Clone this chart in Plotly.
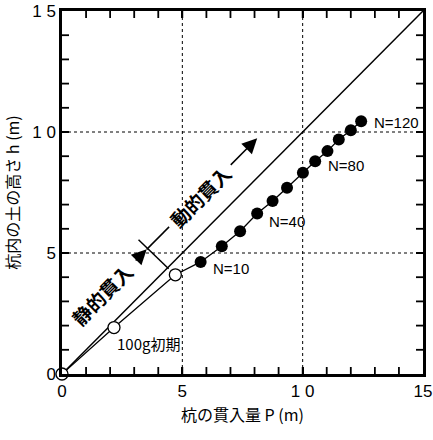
import plotly.graph_objects as go

# Data
open_P = [0.0, 2.16, 4.71]
open_h = [0.0, 1.92, 4.10]
N_vals = [10, 20, 30, 40, 50, 60, 70, 80, 90, 100, 110, 120]
dyn_P = [5.76, 6.64, 7.40, 8.11, 8.75, 9.35, 10.01, 10.52, 11.03, 11.50, 12.00, 12.43]
dyn_h = [4.63, 5.28, 5.90, 6.63, 7.15, 7.70, 8.32, 8.79, 9.21, 9.69, 10.07, 10.44]
diag = [0, 15]
labeled_N = {10: (6.2, 4.36), 40: (8.5, 6.31), 80: (10.95, 8.6), 120: (12.9, 10.39)}
tick_vals = [0, 5, 10, 15]
x_tick_text = ["0", "5", "1 0", "15"]
y_tick_text = ["0", "5", "1 0", "1 5"]
minor_ticks = list(range(1, 15))
grid_vals = [5, 10]

FONT = "Arial, Liberation Sans, Noto Sans CJK JP"
JFONT = "Noto Sans CJK JP, Arial"

fig = go.Figure()
fig.add_trace(go.Scatter(x=diag, y=diag, mode="lines", line=dict(color="black", width=1.5),
                         showlegend=False, hoverinfo="skip"))
fig.add_trace(go.Scatter(x=open_P + dyn_P, y=open_h + dyn_h, mode="lines",
                         line=dict(color="black", width=1.3), showlegend=False))
fig.add_trace(go.Scatter(x=dyn_P, y=dyn_h, mode="markers",
                         marker=dict(size=12, color="black"), showlegend=False))
fig.add_trace(go.Scatter(x=open_P, y=open_h, mode="markers",
                         marker=dict(size=12, color="white", line=dict(color="black", width=1.3)),
                         showlegend=False, cliponaxis=False))

ann = []
for n, (px, py) in labeled_N.items():
    ann.append(dict(x=px, y=py, text=f"N={n}", showarrow=False, xanchor="left", yanchor="middle",
                    font=dict(family=FONT, size=15, color="black")))
ann.append(dict(x=2.19, y=1.28, text="100g初期", showarrow=False, xanchor="left", yanchor="middle",
                font=dict(family=JFONT, size=15, color="black")))

off = 1.63
ann.append(dict(x=1.65, y=1.65 + off, text="<b>静的貫入</b>", showarrow=False, textangle=-45,
                font=dict(family=JFONT, size=19, color="black")))
ann.append(dict(x=5.72, y=5.72 + off, text="<b>動的貫入</b>", showarrow=False, textangle=-45,
                font=dict(family=JFONT, size=19, color="black")))
ann.append(dict(x=3.52, y=3.52 + off, ax=3.0, ay=3.0 + off, axref="x", ayref="y", xref="x", yref="y",
                text="", showarrow=True, arrowhead=2, arrowsize=2, arrowwidth=1.5, arrowcolor="black"))
ann.append(dict(x=8.11, y=8.11 + off, ax=6.95, ay=6.95 + off, axref="x", ayref="y", xref="x", yref="y",
                text="", showarrow=True, arrowhead=2, arrowsize=2, arrowwidth=1.5, arrowcolor="black"))

shapes = [
    dict(type="line", x0=3.52, y0=3.52 + off, x1=4.45, y1=4.45 + off, line=dict(color="black", width=1.5)),
    dict(type="line", x0=3.18, y0=5.55, x1=4.43, y1=4.35, line=dict(color="black", width=1.5)),
]
for g in grid_vals:
    shapes.append(dict(type="line", x0=g, x1=g, y0=0, y1=15, layer="below",
                       line=dict(color="black", width=1, dash="dot")))
    shapes.append(dict(type="line", x0=0, x1=15, y0=g, y1=g, layer="below",
                       line=dict(color="black", width=1, dash="dot")))
# inside tick marks on all four sides (pixel-sized shapes anchored at the frame)
for t in minor_ticks:
    tk = dict(color="black", width=1.8)
    shapes.append(dict(type="line", xref="x", yref="y", x0=t, x1=t, ysizemode="pixel", yanchor=0,
                       y0=0, y1=7, line=tk))
    shapes.append(dict(type="line", xref="x", yref="y", x0=t, x1=t, ysizemode="pixel", yanchor=15,
                       y0=0, y1=-7, line=tk))
    shapes.append(dict(type="line", xref="x", yref="y", y0=t, y1=t, xsizemode="pixel", xanchor=0,
                       x0=0, x1=7, line=tk))
    shapes.append(dict(type="line", xref="x", yref="y", y0=t, y1=t, xsizemode="pixel", xanchor=15,
                       x0=0, x1=-7, line=tk))

axis_common = dict(range=[0, 15], tickmode="array", tickvals=tick_vals,
                   ticks="inside", ticklen=7, tickwidth=2, tickcolor="#000000",
                   showline=True, linecolor="black", linewidth=2.5, mirror="allticks",
                   showgrid=False, zeroline=False, automargin=False,
                   ticklabeloverflow="allow",
                   tickfont=dict(family=FONT, size=17, color="black"))

fig.update_layout(
    width=433, height=440,
    margin=dict(l=62, r=10, t=11, b=66, autoexpand=False),
    plot_bgcolor="white", paper_bgcolor="white",
    xaxis=dict(**axis_common, ticktext=x_tick_text,
               title=dict(text="杭の貫入量 P (m)", font=dict(family=JFONT, size=16, color="black"), standoff=10)),
    yaxis=dict(**axis_common, ticktext=y_tick_text,
               title=dict(text="杭内の土の高さ h (m)", font=dict(family=JFONT, size=16, color="black"), standoff=12)),
    annotations=ann, shapes=shapes,
)

fig.write_html("out.html", config={"displayModeBar": False},
               post_script="document.body.style.margin='0';document.body.style.overflow='hidden';")
